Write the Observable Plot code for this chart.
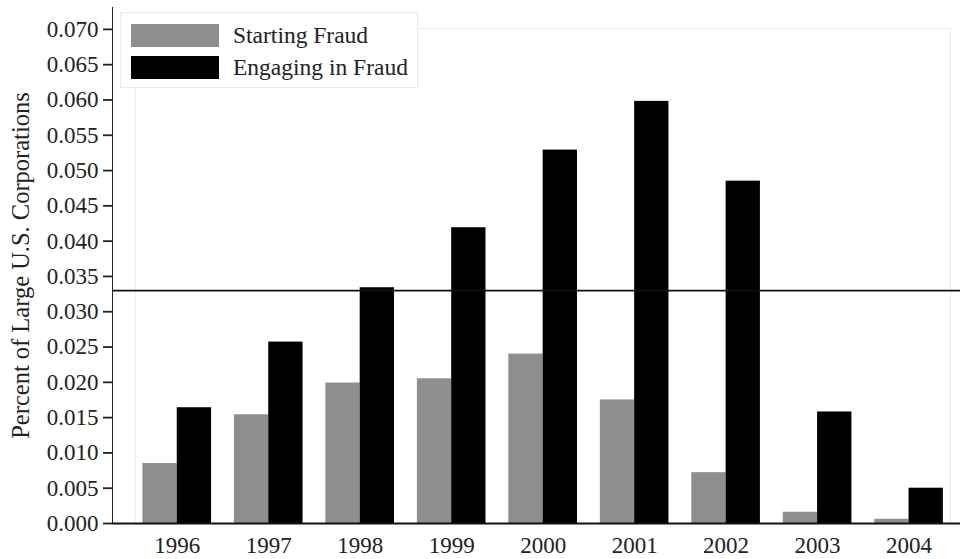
<!DOCTYPE html>
<html>
<head>
<meta charset="utf-8">
<script src="https://cdn.jsdelivr.net/npm/d3@7"></script>
<script src="https://cdn.jsdelivr.net/npm/@observablehq/plot@0.6"></script>
<style>
  html, body { margin: 0; padding: 0; background: #fff; }
  #wrap { position: relative; width: 960px; height: 559px; font-family: "Liberation Serif", "Times New Roman", serif; }
  #legend { position: absolute; left: 120px; top: 12px; width: 298px; height: 76px; border: 1px solid #eaeaea; background: #fff; box-sizing: border-box; }
  .item { position: absolute; left: 10px; display: flex; align-items: center; font-size: 23.5px; color: #222; white-space: nowrap; }
  .sw { width: 88px; height: 23px; margin-right: 14px; }
</style>
</head>
<body>
<div id="wrap"><div id="legend"></div></div>
<script>
const years = ["1996","1997","1998","1999","2000","2001","2002","2003","2004"];
const starting = [0.0085, 0.0154, 0.0199, 0.0205, 0.0240, 0.0175, 0.0072, 0.0016, 0.0006];
const engaging = [0.0164, 0.0257, 0.0334, 0.0419, 0.0529, 0.0598, 0.0485, 0.0158, 0.0050];
const seriesNames = ["Starting Fraud", "Engaging in Fraud"];
const seriesColors = ["#8e8e8e", "#000000"];
const referenceLevel = [0.033];
const yTicks = d3.range(0, 0.0701, 0.005);
const yLabel = "Percent of Large U.S. Corporations";

const dataS = years.map((y, i) => ({year: y, value: starting[i]}));
const dataE = years.map((y, i) => ({year: y, value: engaging[i]}));

const font = "\"Liberation Serif\", \"Times New Roman\", serif";

function build(bw) {
  const half = bw / 2;
  return Plot.plot({
    width: 960,
    height: 559,
    marginLeft: 112,
    marginRight: 0,
    marginTop: 7,
    marginBottom: 36,
    style: {fontFamily: font, fontSize: "23px", color: "#222", background: "#fff"},
    x: {
      type: "band",
      domain: years,
      paddingInner: 0.25,
      paddingOuter: 0.26,
      align: 0.64,
      round: false,
      tickSize: 0,
      tickPadding: 13,
      label: null
    },
    y: {
      domain: [0, 0.0731],
      ticks: yTicks,
      tickFormat: d3.format(".3f"),
      tickSize: 9,
      tickPadding: 5,
      label: yLabel,
      labelAnchor: "center",
      labelOffset: 101,
      line: true
    },
    marks: [
      Plot.frame({stroke: "#ececec", insetLeft: 23, insetTop: 21, insetRight: 10}),
      Plot.barY(dataS, {x: "year", y: "value", fill: seriesColors[0], insetLeft: 0, insetRight: half}),
      Plot.barY(dataE, {x: "year", y: "value", fill: seriesColors[1], insetLeft: half, insetRight: 0}),
      Plot.ruleY(referenceLevel, {stroke: "#111", strokeWidth: 1.8}),
      Plot.ruleY([0], {stroke: "#111", strokeWidth: 1.8})
    ]
  });
}

const tmp = build(0);
const bw = tmp.scale("x").bandwidth;
const chart = build(bw);
chart.querySelectorAll("[aria-label='y-axis'] path, g[aria-label='y-axis tick']").forEach(n => { n.setAttribute("stroke-width", "1.8"); });
chart.querySelectorAll("text").forEach(t => {
  if (t.textContent.includes("→") || t.textContent.includes("↑")) {
    t.textContent = yLabel;
    t.setAttribute("font-size", "24.5px");
  }
});
const wrap = document.getElementById("wrap");
wrap.insertBefore(chart, wrap.firstChild);

const legend = document.getElementById("legend");
seriesNames.forEach((name, i) => {
  const it = document.createElement("div");
  it.className = "item";
  it.style.top = (i === 0 ? 9 : 41) + "px";
  const sw = document.createElement("div");
  sw.className = "sw";
  sw.style.background = seriesColors[i];
  const tx = document.createElement("span");
  tx.textContent = name;
  it.appendChild(sw);
  it.appendChild(tx);
  legend.appendChild(it);
});
</script>
</body>
</html>
